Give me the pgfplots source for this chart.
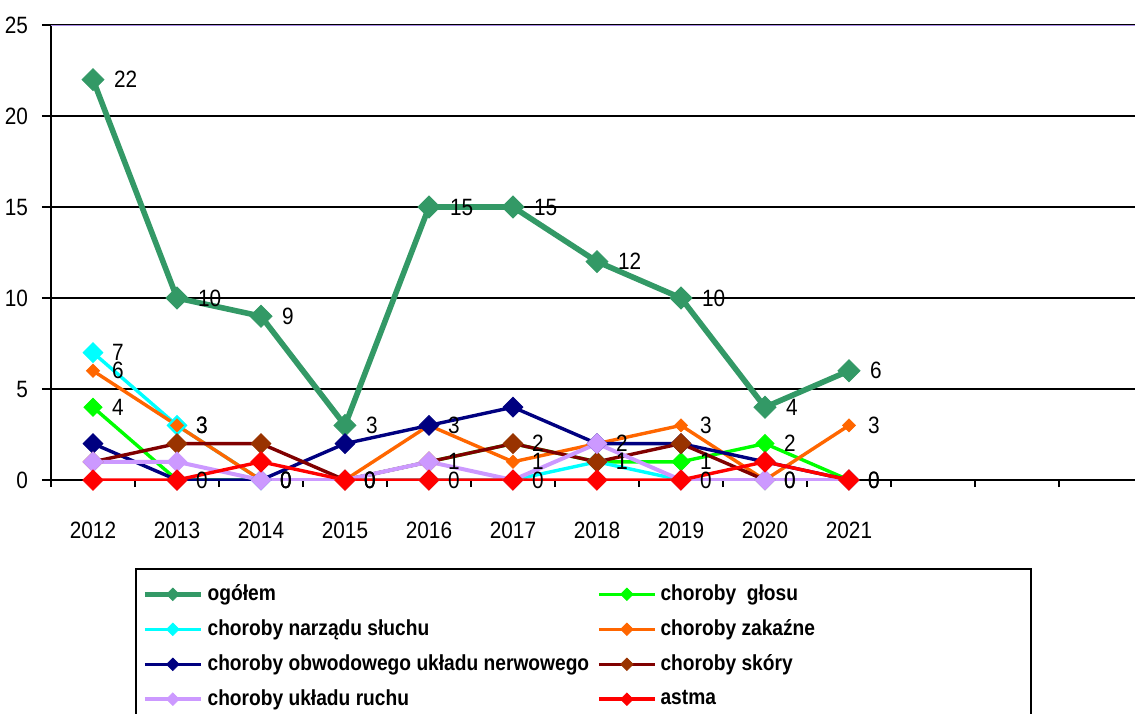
\documentclass[border=0pt]{standalone}
\usepackage{pgfplots}
\pgfplotsset{compat=1.18}
\usepackage{fontspec}
\setmainfont{Liberation Sans}[FakeStretch=0.88]

\definecolor{cOgol}{RGB}{51,153,102}
\definecolor{cGlos}{RGB}{0,255,0}
\definecolor{cSluch}{RGB}{0,255,255}
\definecolor{cZak}{RGB}{255,102,0}
\definecolor{cNerw}{RGB}{0,0,128}
\definecolor{cSkoraL}{RGB}{128,0,0}
\definecolor{cSkoraM}{RGB}{153,51,0}
\definecolor{cRuch}{RGB}{204,153,255}
\definecolor{cAstma}{RGB}{255,0,0}
\definecolor{cTop}{RGB}{170,140,230}

\newcommand{\tickfont}{\fontsize{11.8}{13}\selectfont}

\begin{document}
\begin{tikzpicture}
\useasboundingbox (-25.5pt,-116.5pt) rectangle (542pt,240pt);
\clip (-25.5pt,-116.5pt) rectangle (542pt,240pt);
\begin{axis}[
  scale only axis,
  width=542pt, height=227.5pt,
  xmin=-0.5, xmax=12.405,
  ymin=0, ymax=25,
  axis x line*=bottom, axis y line*=left,
  axis line style={line width=1pt, black},
  xtick={0,...,9},
  xticklabels={2012,2013,2014,2015,2016,2017,2018,2019,2020,2021},
  minor xtick={-0.5,0.5,...,11.5},
  major x tick style={draw=none},
  minor x tick style={line width=1pt, black},
  minor tick length=3.5pt,
  ytick={0,5,...,25},
  major tick length=4.5pt,
  ytick style={line width=1pt, black},
  tick align=outside,
  ymajorgrids,
  major grid style={line width=1pt, black},
  tick label style={font=\tickfont},
  xticklabel style={yshift=-13pt},
  yticklabel style={xshift=-3.5pt},
  /pgf/number format/assume math mode=true,
  every node near coord/.append style={font=\tickfont, black, anchor=west, xshift=6pt},
  legend columns=2,
  legend style={at={(0.0775,-0.193)}, anchor=north west, draw=black, line width=1pt,
    font=\fontsize{10.9}{12}\selectfont\bfseries, row sep=4pt, inner xsep=3pt, inner ysep=6pt,
    /tikz/every even column/.append style={column sep=2pt}},
  legend cell align=left,
  legend image code/.code={\draw[mark repeat=2, mark phase=2, mark size=2.2pt]
    plot coordinates {(0pt,0pt) (14pt,0pt) (28pt,0pt)};},
]
\addplot[color=cOgol, line width=2.8pt, mark=square*, mark size=3.9pt,
  mark options={solid, rotate=45, line width=0.4pt, fill=cOgol},
  nodes near coords, every node near coord/.append style={xshift=1pt}]
  coordinates {(0,22) (1,10) (2,9) (3,3) (4,15) (5,15) (6,12) (7,10) (8,4) (9,6)};
\addlegendentry{\makebox[188pt][l]{ogółem}}
\addplot[color=cGlos, line width=1.7pt, mark=square*, mark size=3.2pt,
  mark options={solid, rotate=45, line width=0.4pt, fill=cGlos}, nodes near coords]
  coordinates {(0,4) (1,0) (2,0) (3,0) (4,1) (5,2) (6,1) (7,1) (8,2) (9,0)};
\addlegendentry{\makebox[180pt][l]{choroby\ \ głosu}}
\addplot[color=cSluch, line width=1.7pt, mark=square*, mark size=3.5pt,
  mark options={solid, rotate=45, line width=0.4pt, fill=cSluch}, nodes near coords]
  coordinates {(0,7) (1,3) (2,0) (3,0) (4,0) (5,0) (6,1) (7,0) (8,0) (9,0)};
\addlegendentry{choroby narządu słuchu}
\addplot[color=cZak, line width=1.7pt, mark=square*, mark size=2.3pt,
  mark options={solid, rotate=45, line width=0.4pt, fill=cZak}, nodes near coords]
  coordinates {(0,6) (1,3) (2,0) (3,0) (4,3) (5,1) (6,2) (7,3) (8,0) (9,3)};
\addlegendentry{choroby zakaźne}
\addplot[color=cNerw, line width=1.7pt, mark=square*, mark size=3.5pt,
  mark options={solid, rotate=45, line width=0.4pt, fill=cNerw}]
  coordinates {(0,2) (1,0) (2,0) (3,2) (4,3) (5,4) (6,2) (7,2) (8,1) (9,0)};
\addlegendentry{choroby obwodowego układu nerwowego}
\addplot[color=cSkoraL, line width=1.7pt, mark=square*, mark size=3.5pt,
  mark options={solid, rotate=45, line width=0.4pt, draw=cSkoraM, fill=cSkoraM}]
  coordinates {(0,1) (1,2) (2,2) (3,0) (4,1) (5,2) (6,1) (7,2) (8,0) (9,0)};
\addlegendentry{choroby skóry}
\addplot[color=cRuch, line width=2pt, mark=square*, mark size=3.5pt,
  mark options={solid, rotate=45, line width=0.4pt, fill=cRuch}]
  coordinates {(0,1) (1,1) (2,0) (3,0) (4,1) (5,0) (6,2) (7,0) (8,0) (9,0)};
\addlegendentry{choroby układu ruchu}
\addplot[color=cAstma, line width=1.7pt, mark=square*, mark size=3.6pt,
  mark options={solid, rotate=45, line width=0.4pt, fill=cAstma}]
  coordinates {(0,0) (1,0) (2,1) (3,0) (4,0) (5,0) (6,0) (7,0) (8,1) (9,0)};
\addlegendentry{astma}
\draw[cTop, line width=1pt] (rel axis cs:0,1) -- (rel axis cs:1,1);
\end{axis}
\end{tikzpicture}
\end{document}
